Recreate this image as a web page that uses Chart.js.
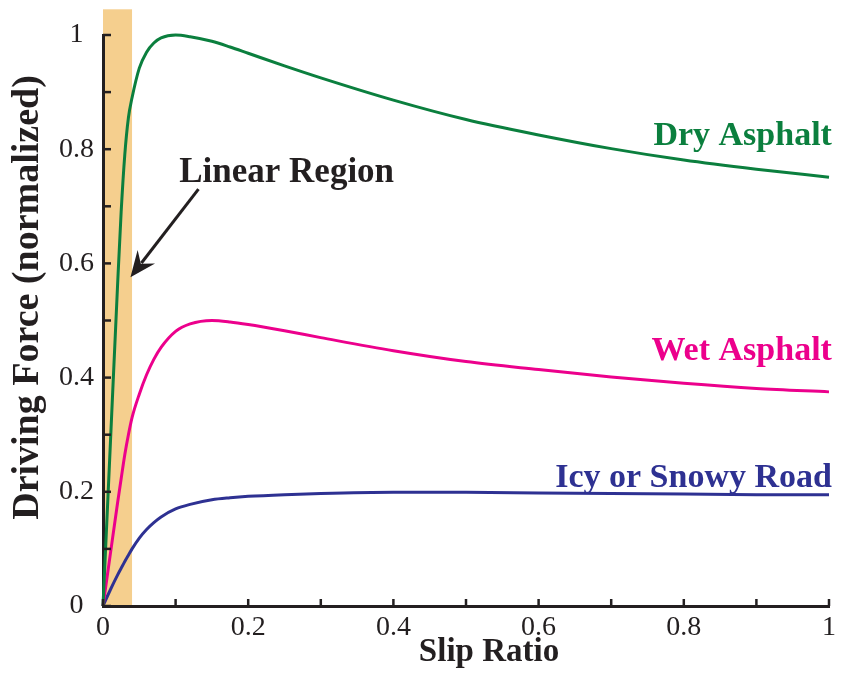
<!DOCTYPE html>
<html>
<head>
<meta charset="utf-8">
<style>
  html, body { margin: 0; padding: 0; background: #fff; }
</style>
<script src="https://cdn.jsdelivr.net/npm/chart.js@4.4.1/dist/chart.umd.min.js"></script>
</head>
<body>
<canvas id="myChart" width="841" height="674"></canvas>
<script>
// slip ratio samples shared by the three curves
const slip = [0, 0.01, 0.02, 0.025, 0.03, 0.035, 0.04, 0.05, 0.06, 0.07, 0.08, 0.1, 0.12, 0.15, 0.175,
              0.2, 0.25, 0.3, 0.4, 0.5, 0.6, 0.7, 0.8, 0.9, 1];
const dryAsphalt = [0, 0.28, 0.56, 0.69, 0.79, 0.855, 0.89, 0.942, 0.97, 0.986, 0.995, 1.0, 0.997, 0.989, 0.979,
                    0.968, 0.946, 0.925, 0.886, 0.852, 0.825, 0.801, 0.781, 0.765, 0.751];
const wetAsphalt = [0, 0.09, 0.18, 0.223, 0.265, 0.3, 0.33, 0.371, 0.405, 0.432, 0.453, 0.481, 0.494, 0.5, 0.4975,
                    0.493, 0.482, 0.47, 0.447, 0.428, 0.414, 0.401, 0.39, 0.381, 0.375];
const icyRoad = [0, 0.028, 0.054, 0.066, 0.078, 0.089, 0.1, 0.119, 0.134, 0.146, 0.156, 0.17, 0.178, 0.186, 0.1895,
                 0.192, 0.195, 0.197, 0.199, 0.199, 0.198, 0.197, 0.196, 0.195, 0.195];
const roadNames = ['Dry Asphalt', 'Wet Asphalt', 'Icy or Snowy Road'];
const linearRegion = [0, 0.04];

const axisColor = '#231f20';
const serif = '"Liberation Serif", "Times New Roman", serif';
const roadColors = ['#0b7f3e', '#ec008c', '#2e3192'];
// where each road name sits (data units, baseline of the text)
const nameSpots = [{x: 1.004, y: 0.807}, {x: 1.004, y: 0.431}, {x: 1.004, y: 0.209}];

function toPoints(ys) {
  return slip.map((s, i) => ({x: s, y: ys[i]}));
}

function tenthLabel(v) {
  return Math.round(v * 10) % 2 ? '' : String(+v.toFixed(1));
}

const figureDecor = {
  id: 'figureDecor',
  beforeDraw(chart) {
    const {ctx, scales: {x, y}} = chart;
    ctx.save();
    ctx.fillStyle = '#fff';
    ctx.fillRect(0, 0, chart.width, chart.height);
    // shaded linear region, rising a little above the plot
    const x0 = x.getPixelForValue(linearRegion[0]);
    const x1 = x.getPixelForValue(linearRegion[1]);
    const top = y.getPixelForValue(1.045);
    ctx.fillStyle = '#f5cf8e';
    ctx.fillRect(x0, top, x1 - x0, y.getPixelForValue(0) - top);
    ctx.restore();
  },
  afterDatasetsDraw(chart) {
    const {ctx, chartArea: area, scales: {x, y}} = chart;
    ctx.save();
    // tick marks pointing into the plot
    ctx.strokeStyle = axisColor;
    ctx.lineWidth = 2.5;
    const yb = y.getPixelForValue(0), xl = x.getPixelForValue(0);
    x.ticks.forEach(t => {
      const px = x.getPixelForValue(t.value);
      ctx.beginPath(); ctx.moveTo(px, yb); ctx.lineTo(px, yb - 7); ctx.stroke();
    });
    y.ticks.forEach(t => {
      const py = y.getPixelForValue(t.value);
      ctx.beginPath(); ctx.moveTo(xl, py); ctx.lineTo(xl + 8, py); ctx.stroke();
    });

    // axis titles
    ctx.fillStyle = axisColor;
    ctx.textAlign = 'center';
    ctx.textBaseline = 'alphabetic';
    ctx.font = 'bold 33px ' + serif;
    ctx.fillText('Slip Ratio', (area.left + area.right) / 2 + 23, chart.height - 13);
    ctx.save();
    ctx.translate(38, (area.top + area.bottom) / 2 - 23);
    ctx.rotate(-Math.PI / 2);
    ctx.font = 'bold 38px ' + serif;
    ctx.fillText('Driving Force (normalized)', 0, 0);
    ctx.restore();

    // road names at the right end of each curve
    ctx.font = 'bold 34px ' + serif;
    ctx.textAlign = 'right';
    roadNames.forEach((name, i) => {
      ctx.fillStyle = roadColors[i];
      ctx.fillText(name, x.getPixelForValue(nameSpots[i].x), y.getPixelForValue(nameSpots[i].y));
    });

    // "Linear Region" note with its arrow
    ctx.fillStyle = axisColor;
    ctx.textAlign = 'left';
    ctx.font = 'bold 35px ' + serif;
    ctx.fillText('Linear Region', x.getPixelForValue(0.105), y.getPixelForValue(0.743));

    const tx = x.getPixelForValue(0.1315), ty = y.getPixelForValue(0.730);
    const hx = x.getPixelForValue(0.0378), hy = y.getPixelForValue(0.5757);
    const len = Math.hypot(hx - tx, hy - ty);
    const ux = (hx - tx) / len, uy = (hy - ty) / len;
    const headLen = 26, headHalf = 11;
    ctx.strokeStyle = axisColor;
    ctx.lineWidth = 3;
    ctx.beginPath();
    ctx.moveTo(tx, ty);
    ctx.lineTo(hx - ux * 18, hy - uy * 18);
    ctx.stroke();
    ctx.beginPath();
    ctx.moveTo(hx, hy);
    ctx.lineTo(hx - ux * headLen - uy * headHalf, hy - uy * headLen + ux * headHalf);
    ctx.lineTo(hx - ux * 17, hy - uy * 17);
    ctx.lineTo(hx - ux * headLen + uy * headHalf, hy - uy * headLen - ux * headHalf);
    ctx.closePath();
    ctx.fill();
    ctx.restore();
  }
};

const canvasChart = document.getElementById('myChart');
new Chart(canvasChart, {
  type: 'line',
  data: {
    datasets: [dryAsphalt, wetAsphalt, icyRoad].map((ys, i) => ({
      label: roadNames[i],
      data: toPoints(ys),
      borderColor: roadColors[i],
      borderWidth: 3,
      pointRadius: 0,
      cubicInterpolationMode: 'monotone',
      clip: 6
    }))
  },
  options: {
    responsive: false,
    animation: false,
    layout: { padding: { top: 35, right: 8, left: 0, bottom: 0 } },
    plugins: { legend: { display: false }, tooltip: { enabled: false } },
    scales: {
      x: {
        type: 'linear',
        min: 0,
        max: 1,
        grid: { display: false, drawTicks: false },
        border: { color: axisColor, width: 3 },
        ticks: {
          stepSize: 0.1,
          autoSkip: false,
          maxRotation: 0,
          padding: 5,
          color: axisColor,
          font: { family: serif, size: 28 },
          callback: tenthLabel
        },
        afterFit(scale) { scale.height = 68; }
      },
      y: {
        min: 0,
        max: 1,
        grid: { display: false, drawTicks: false },
        border: { color: axisColor, width: 3 },
        ticks: {
          stepSize: 0.1,
          autoSkip: false,
          padding: 9,
          crossAlign: 'center',
          color: axisColor,
          font: { family: serif, size: 28 },
          callback: tenthLabel
        },
        afterFit(scale) { scale.width = 103; }
      }
    }
  },
  plugins: [figureDecor]
});
</script>
</body>
</html>
